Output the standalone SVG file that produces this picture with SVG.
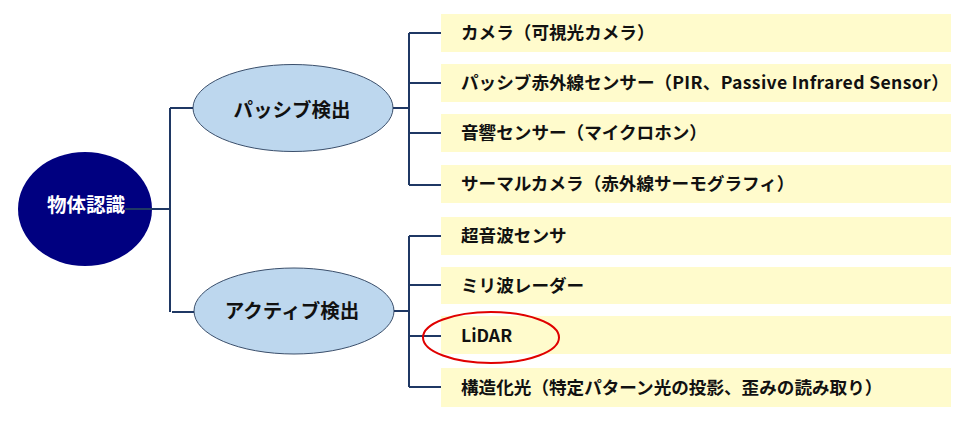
<svg xmlns="http://www.w3.org/2000/svg" width="976" height="426" viewBox="0 0 976 426">
<style>
.conn{fill:none;stroke:#1f3864;stroke-width:2}
.box{fill:#fffbcc}
.leaf{font-family:"Noto Sans CJK JP","Noto Sans",sans-serif;font-weight:bold;font-size:17.6px;fill:#111}
.mid{fill:#bdd7ee;stroke:#3b4f6b;stroke-width:1}
.lbl{font-family:"Noto Sans CJK JP","Noto Sans",sans-serif;font-weight:bold;font-size:19.5px;text-anchor:middle}
</style>
<rect width="976" height="426" fill="#fff"/>
<g id="root">
<ellipse cx="85" cy="209" rx="67" ry="57" fill="#000080"/>
</g>
<g id="passive">
<ellipse class="mid" cx="293" cy="108" rx="100" ry="43.5"/>
<text class="lbl" x="292" y="116.5" fill="#111">パッシブ検出</text>
</g>
<g id="active">
<ellipse class="mid" cx="294" cy="311" rx="100" ry="43"/>
<text class="lbl" x="292" y="318" fill="#111">アクティブ検出</text>
</g>
<g id="connectors">
<path class="conn" d="M125 209H170M170 108V312M170 108H193M172 312H194"/>
<path class="conn" d="M393 108H409M409 33V185M409 33H441M409 83H441M409 133H441M409 185H441"/>
<path class="conn" d="M394 311H409M409 236V387M409 236H441M409 285H441M409 336H441M409 387H441"/>
</g>
<g id="root-label">
<text class="lbl" x="86" y="212" fill="#fff">物体認識</text>
</g>
<g id="leaf1"><rect class="box" x="441" y="14" width="510" height="38"/><text class="leaf" x="461" y="39">カメラ（可視光カメラ）</text></g>
<g id="leaf2"><rect class="box" x="441" y="64" width="510" height="38"/><text class="leaf" x="461" y="89">パッシブ赤外線センサー（<tspan letter-spacing="0.35">PIR、Passive Infrared Sensor</tspan>）</text></g>
<g id="leaf3"><rect class="box" x="441" y="114" width="510" height="38"/><text class="leaf" x="461" y="139">音響センサー（マイクロホン）</text></g>
<g id="leaf4"><rect class="box" x="441" y="165" width="510" height="38"/><text class="leaf" x="461" y="190">サーマルカメラ（赤外線サーモグラフィ）</text></g>
<g id="leaf5"><rect class="box" x="441" y="217" width="510" height="38"/><text class="leaf" x="461" y="242">超音波センサ</text></g>
<g id="leaf6"><rect class="box" x="441" y="267" width="510" height="37"/><text class="leaf" x="461" y="292">ミリ波レーダー</text></g>
<g id="leaf7"><rect class="box" x="441" y="316" width="510" height="38"/><text class="leaf" x="461" y="342">LiDAR</text></g>
<g id="leaf8"><rect class="box" x="441" y="368" width="510" height="39"/><text class="leaf" x="461" y="394">構造化光（特定パターン光の投影、歪みの読み取り）</text></g>
<g id="highlight">
<ellipse cx="491" cy="337.5" rx="68" ry="25.5" fill="none" stroke="#e00000" stroke-width="2"/>
</g>
</svg>
